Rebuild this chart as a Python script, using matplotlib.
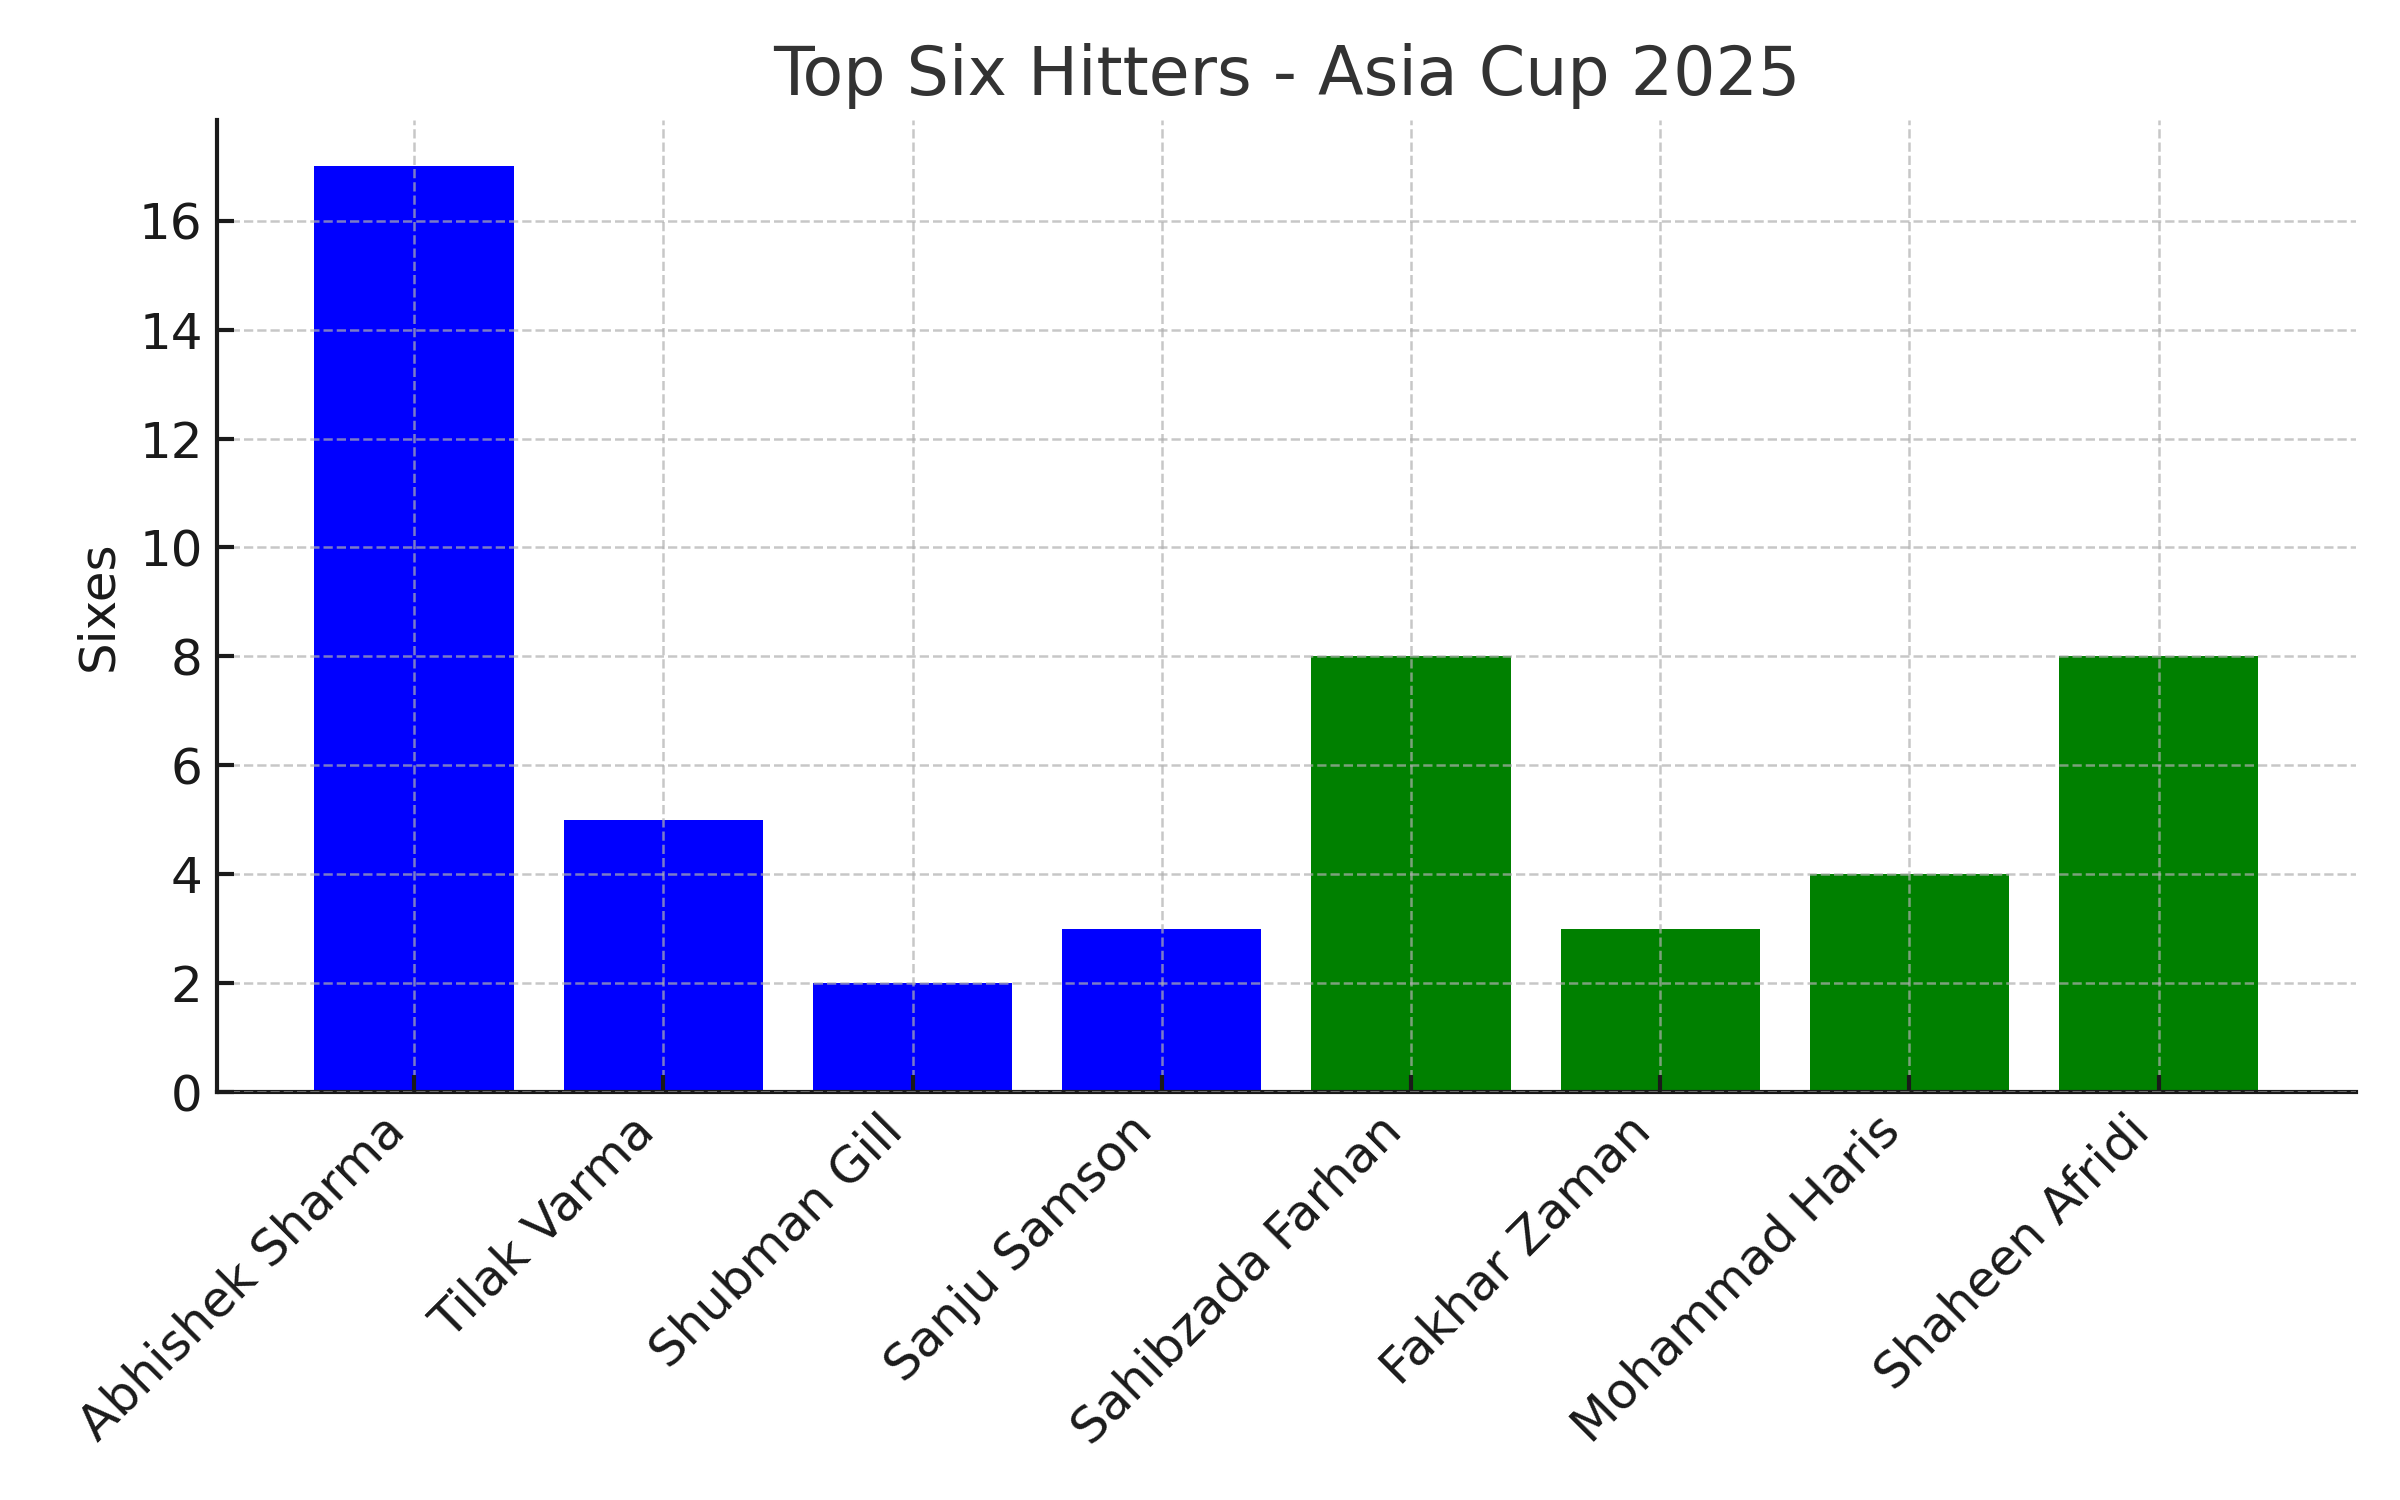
import matplotlib
matplotlib.use('Agg')
from matplotlib import pyplot as plt

players = ['Abhishek Sharma', 'Tilak Varma', 'Shubman Gill', 'Sanju Samson',
           'Sahibzada Farhan', 'Fakhar Zaman', 'Mohammad Haris', 'Shaheen Afridi']
sixes = [17, 5, 2, 3, 8, 3, 4, 8]
teams = ['India', 'India', 'India', 'India', 'Pakistan', 'Pakistan', 'Pakistan', 'Pakistan']
team_colors = {'India': 'blue', 'Pakistan': 'green'}

fig, ax = plt.subplots(figsize=(8, 5), dpi=300)
fig.subplots_adjust(left=0.0905, right=0.9815, top=0.92, bottom=0.272)

ax.bar(players, sixes, width=0.8, color=[team_colors[t] for t in teams])

ax.set_title('Top Six Hitters - Asia Cup 2025', fontsize=16.0, color='#333333')
ax.set_ylabel('Sixes', fontsize=12.0, color='#1a1a1a')
ax.set_yticks(range(0, 17, 2))
ax.tick_params(axis='both', direction='in', labelsize=12.0, colors='#1a1a1a', length=4, width=1)
plt.setp(ax.get_xticklabels(), rotation=45, ha='right')

ax.grid(True, linestyle='--', color='#b0b0b0', alpha=0.7, linewidth=0.6)
ax.set_axisbelow(False)
for s in ['top', 'right']:
    ax.spines[s].set_visible(False)
for s in ['left', 'bottom']:
    ax.spines[s].set_color('#1a1a1a')
    ax.spines[s].set_linewidth(1)

fig.savefig('out.png', dpi=300)
